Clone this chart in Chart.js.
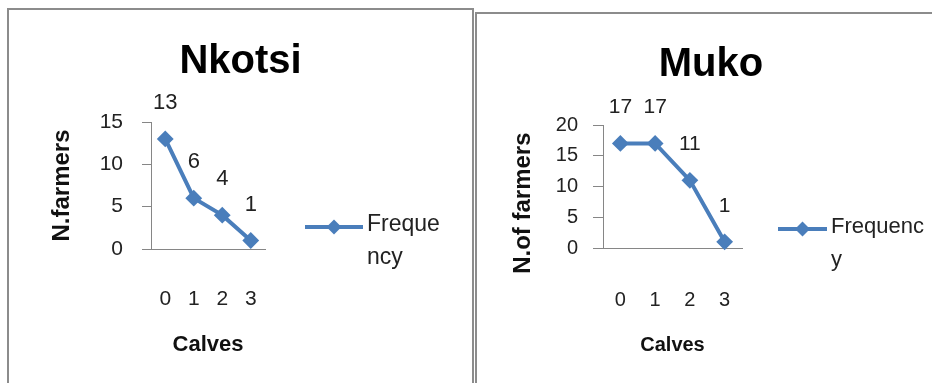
<!DOCTYPE html>
<html>
<head>
<meta charset="utf-8">
<script src="https://cdn.jsdelivr.net/npm/chart.js@4.4.0/dist/chart.umd.min.js"></script>
<style>
  html, body { margin: 0; padding: 0; background: #fff; overflow: hidden; }
  body { width: 932px; height: 383px; position: relative; }
  .panel { position: absolute; border: 2px solid #8c8c8c; background: #fff; }
  #panelA { left: 7px; top: 8px; width: 463px; height: 400px; }
  #panelB { left: 475px; top: 12px; width: 468px; height: 400px; }
  canvas { display: block; }
</style>
</head>
<body>
<div class="panel" id="panelA"><canvas id="nkotsiChart" width="463" height="380"></canvas></div>
<div class="panel" id="panelB"><canvas id="mukoChart" width="468" height="380"></canvas></div>
<script>
// values
const calves = ['0', '1', '2', '3'];
const nkotsiFarmers = [13, 6, 4, 1];
const mukoFarmers = [17, 17, 11, 1];
const nkotsiYTicks = [0, 5, 10, 15];
const mukoYTicks = [0, 5, 10, 15, 20];
const seriesName = 'Frequency';

const BLUE = '#4a7ebb';
const AXIS_GREY = '#868686';
const FONT = '"Liberation Sans", Arial, sans-serif';

// title, value labels and the wrapped legend (Excel style)
const panelDecor = {
  id: 'panelDecor',
  afterDatasetsDraw(chart, args, opts) {
    const ctx = chart.ctx;
    const ds = chart.data.datasets[0];
    const meta = chart.getDatasetMeta(0);
    ctx.save();
    ctx.textAlign = 'center';
    ctx.textBaseline = 'middle';

    ctx.font = opts.labelSize + 'px ' + FONT;
    ctx.fillStyle = '#222';
    meta.data.forEach((pt, i) => ctx.fillText(String(ds.data[i]), pt.x, pt.y - 36));

    ctx.font = 'bold 40px ' + FONT;
    ctx.fillStyle = '#000';
    ctx.fillText(opts.title, chart.width / 2, opts.titleY);

    // legend
    const x0 = chart.chartArea.right + opts.legendDx;
    const y0 = opts.legendY;
    ctx.strokeStyle = ds.borderColor;
    ctx.lineWidth = 4;
    ctx.beginPath();
    ctx.moveTo(x0, y0);
    ctx.lineTo(x0 + opts.legendLen, y0);
    ctx.stroke();
    const cx = x0 + opts.legendLen / 2, r = 7.5;
    ctx.fillStyle = ds.borderColor;
    ctx.beginPath();
    ctx.moveTo(cx - r, y0);
    ctx.lineTo(cx, y0 - r);
    ctx.lineTo(cx + r, y0);
    ctx.lineTo(cx, y0 + r);
    ctx.closePath();
    ctx.fill();

    const name = ds.label;
    const lines = [name.slice(0, opts.legendBreak), name.slice(opts.legendBreak)];
    ctx.font = opts.legendSize + 'px ' + FONT;
    ctx.fillStyle = '#222';
    ctx.textAlign = 'left';
    lines.forEach((t, i) => ctx.fillText(t, x0 + opts.legendLen + 4, y0 - 2 + i * 33));
    ctx.restore();
  }
};

function makeChart(id, values, yTicks, cfg) {
  const ctx = document.getElementById(id).getContext('2d');
  return new Chart(ctx, {
    type: 'line',
    data: {
      labels: calves,
      datasets: [{
        label: seriesName,
        data: values,
        borderColor: BLUE,
        backgroundColor: BLUE,
        borderWidth: 4,
        pointStyle: 'rectRot',
        pointRadius: 7,
        pointBorderWidth: 2,
        pointBackgroundColor: BLUE,
        pointBorderColor: BLUE,
        tension: 0,
        clip: false
      }]
    },
    options: {
      responsive: false,
      animation: false,
      devicePixelRatio: 1,
      layout: { padding: cfg.padding },
      plugins: {
        legend: { display: false },
        tooltip: { enabled: false },
        panelDecor: cfg.decor
      },
      scales: {
        x: {
          offset: true,
          grid: { display: false },
          border: { display: true, color: AXIS_GREY, width: 1 },
          ticks: { font: { family: FONT, size: cfg.tickSize }, color: '#222', padding: cfg.xTickPad, maxRotation: 0, autoSkip: false },
          title: {
            display: true, text: 'Calves', color: '#111',
            font: { family: FONT, size: cfg.xTitleSize, weight: 'bold' },
            padding: { top: 0, bottom: 0 }
          },
          afterFit: s => { s.height = cfg.xHeight; }
        },
        y: {
          min: yTicks[0],
          max: yTicks[yTicks.length - 1],
          ticks: { stepSize: yTicks[1] - yTicks[0], font: { family: FONT, size: cfg.tickSize }, color: '#222', padding: cfg.yTickPad },
          grid: { drawOnChartArea: false, drawTicks: true, tickLength: cfg.tickLen, color: AXIS_GREY },
          border: { display: true, color: AXIS_GREY, width: 1 },
          title: {
            display: true, text: cfg.yTitle, color: '#111',
            font: { family: FONT, size: 24, weight: 'bold' },
            padding: { top: cfg.yTitlePad, bottom: 0 }
          },
          afterFit: s => { s.width = cfg.yWidth; }
        }
      }
    },
    plugins: [panelDecor]
  });
}

makeChart('nkotsiChart', nkotsiFarmers, nkotsiYTicks, {
  padding: { top: 112, left: 0, right: 207, bottom: 31.8 },
  yWidth: 142, tickLen: 9, yTickPad: 19, yTitlePad: 38.6, yTitle: 'N.farmers',
  tickSize: 21, xTickPad: 29.4, xHeight: 109.2, xTitleSize: 22,
  decor: { title: 'Nkotsi', titleY: 52, labelSize: 22, legendSize: 23, legendDx: 40, legendY: 217, legendLen: 58, legendBreak: 6 }
});

makeChart('mukoChart', mukoFarmers, mukoYTicks, {
  padding: { top: 111, left: 0, right: 203, bottom: 37 },
  yWidth: 126, tickLen: 10, yTickPad: 15, yTitlePad: 31.6, yTitle: 'N.of farmers     ',
  tickSize: 20, xTickPad: 32, xHeight: 109, xTitleSize: 20,
  decor: { title: 'Muko', titleY: 51, labelSize: 21, legendSize: 22, legendDx: 36, legendY: 215, legendLen: 49, legendBreak: 8 }
});
</script>
</body>
</html>
